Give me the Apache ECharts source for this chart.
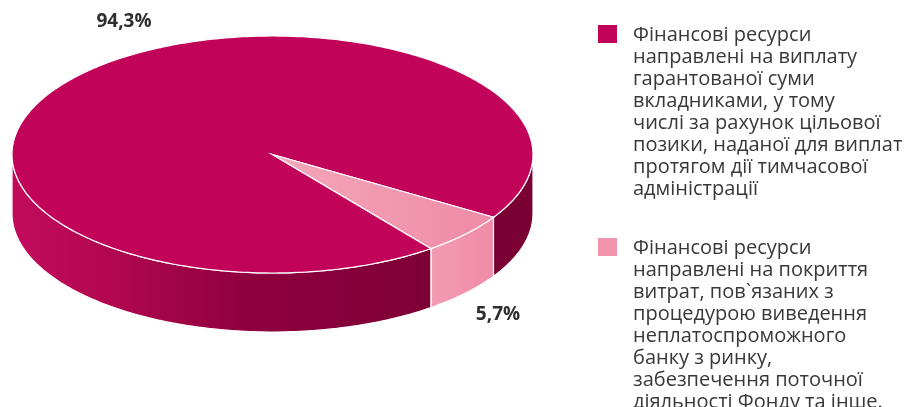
<!DOCTYPE html>
<html>
<head>
<meta charset="utf-8">
<script src="https://cdn.jsdelivr.net/npm/echarts@6/dist/echarts.min.js"></script>
<style>
  html, body { margin: 0; padding: 0; background: #fff; }
  #chart { width: 909px; height: 407px; }
</style>
</head>
<body>
<div id="chart"></div>
<script>
// дані діаграми
const categories = [
    'Фінансові ресурси\nнаправлені на виплату\nгарантованої суми\nвкладниками, у тому\nчислі за рахунок цільової\nпозики, наданої для виплат\nпротягом дії тимчасової\nадміністрації',
    'Фінансові ресурси\nнаправлені на покриття\nвитрат, пов`язаних з\nпроцедурою виведення\nнеплатоспроможного\nбанку з ринку,\nзабезпечення поточної\nдіяльності Фонду та інше.'
];
const values = [94.3, 5.7];

// геометрія "3D" пирога
const CX = 272.5, CY = 154.5, RX = 260.5, RY = 118.5, DEPTH = 59;
const START = 52.5; // градуси, за годинниковою стрілкою від осі x

const G = echarts.graphic;
const topFill = [
    '#C2035A',
    new G.LinearGradient(272, 0, 490, 0, [
        { offset: 0, color: '#F5A6BB' },
        { offset: 1, color: '#EF8BA7' }
    ], true)
];
const sideFill = [
    new G.LinearGradient(CX - RX, 0, CX + RX, 0, [
        { offset: 0, color: '#C30A5D' },
        { offset: 0.2, color: '#B0074F' },
        { offset: 0.45, color: '#8E003E' },
        { offset: 0.8, color: '#7E0036' },
        { offset: 1, color: '#7A0033' }
    ], true),
    new G.LinearGradient(434, 0, 490, 0, [
        { offset: 0, color: '#F29AB2' },
        { offset: 1, color: '#F08CA8' }
    ], true)
];

const total = values.reduce((a, b) => a + b, 0);

function sliceRange(i) {
    let a0 = START;
    for (let k = 0; k < i; k++) a0 += values[k] / total * 360;
    return [a0, a0 + values[i] / total * 360];
}

function pt(deg, dy) {
    const r = deg * Math.PI / 180;
    return [CX + RX * Math.cos(r), CY + RY * Math.sin(r) + dy];
}

function arc(a0, a1, dy) {
    const pts = [];
    const step = a1 > a0 ? 1 : -1;
    for (let a = a0; step > 0 ? a < a1 : a > a1; a += step) pts.push(pt(a, dy));
    pts.push(pt(a1, dy));
    return pts;
}

function renderSide(params) {
    const i = params.dataIndex;
    const [a0, a1] = sliceRange(i);
    const children = [];
    [0, 360].forEach(k => {
        const b0 = Math.max(a0, k), b1 = Math.min(a1, k + 180);
        if (b1 > b0) {
            children.push({
                type: 'polygon',
                shape: { points: arc(b0, b1, 0).concat(arc(b1, b0, DEPTH)) },
                style: { fill: sideFill[i], stroke: '#fff', lineWidth: 1.2 }
            });
        }
    });
    return { type: 'group', children };
}

function renderTop(params) {
    const i = params.dataIndex;
    const [a0, a1] = sliceRange(i);
    return {
        type: 'polygon',
        shape: { points: [[CX, CY]].concat(arc(a0, a1, 0)) },
        style: { fill: topFill[i], stroke: '#fff', lineWidth: 1.2 }
    };
}

const fmt = v => v.toFixed(1).replace('.', ',') + '%';
const legendColors = ['#C2035A', '#F293AD'];
const legendTop = [24, 237];
const labelPos = [[124, 22], [498, 315]];

const graphic = [];
categories.forEach((name, i) => {
    graphic.push({
        type: 'rect', left: 598, top: legendTop[i] + 1,
        shape: { width: 19, height: 18 },
        style: { fill: legendColors[i] }
    });
    graphic.push({
        type: 'text', left: 633, top: legendTop[i],
        style: {
            text: name, fill: '#383838', fontSize: 20, lineHeight: 22,
            fontFamily: 'Open Sans'
        }
    });
    graphic.push({
        type: 'text', x: labelPos[i][0], y: labelPos[i][1],
        style: {
            text: fmt(values[i]), fill: '#2e2e2e', fontSize: 19, fontWeight: 'bold',
            fontFamily: 'Open Sans', align: 'center', verticalAlign: 'middle'
        }
    });
});

const chart = echarts.init(document.getElementById('chart'));
chart.setOption({
    animation: false,
    graphic: graphic,
    series: [
        { type: 'custom', name: 'side', coordinateSystem: 'none', renderItem: renderSide, data: values, z: 1, silent: true },
        { type: 'custom', name: 'top', coordinateSystem: 'none', renderItem: renderTop, data: values, z: 2, silent: true }
    ]
});
</script>
</body>
</html>
